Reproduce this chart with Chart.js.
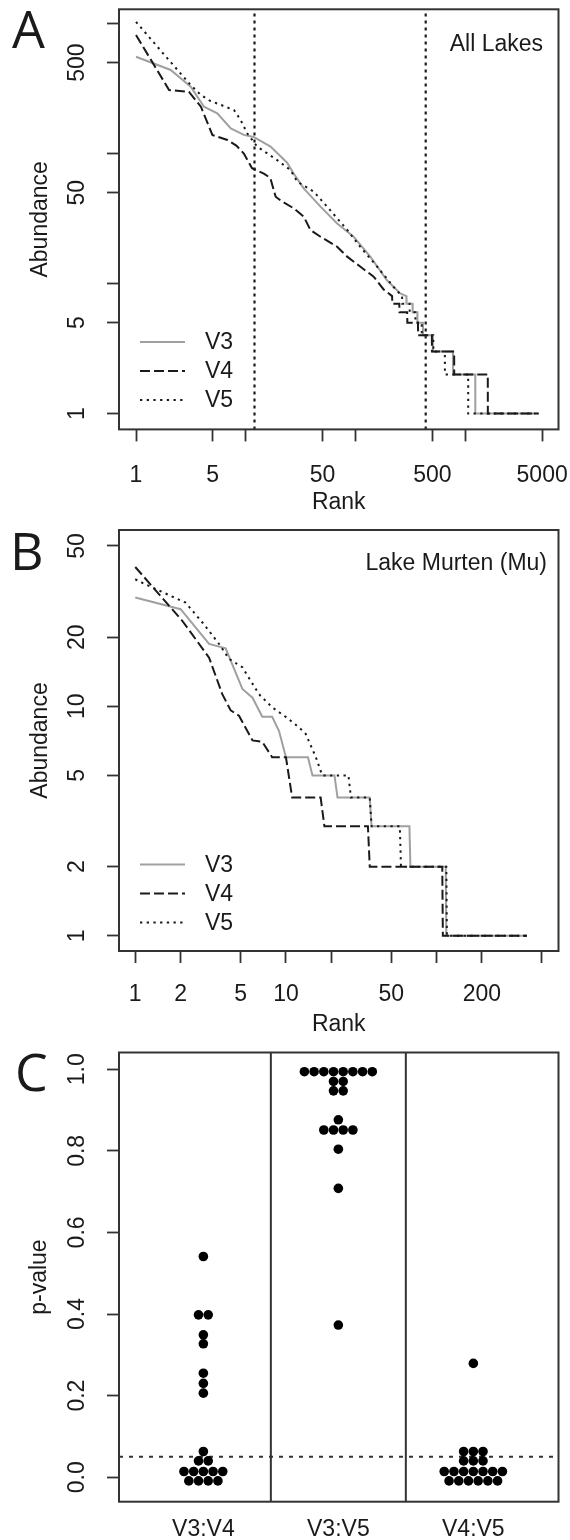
<!DOCTYPE html>
<html>
<head>
<meta charset="utf-8">
<script src="https://cdn.jsdelivr.net/npm/chart.js@4.4.1/dist/chart.umd.min.js"></script>
<style>
  body { margin: 0; background: #fff; width: 570px; height: 1540px; position: relative; overflow: hidden; }
  canvas { position: absolute; left: 0; }
</style>
</head>
<body>
<canvas id="panelA" width="570" height="520" style="top:0"></canvas>
<canvas id="panelB" width="570" height="520" style="top:520px"></canvas>
<canvas id="panelC" width="570" height="500" style="top:1040px"></canvas>
<script>
// ---- panel A: all lakes, rank vs abundance (log-log) ----
const rankTicksA = [1, 5, 10, 50, 100, 500, 1000, 5000];
const rankLabelsA = [1, 5, 50, 500, 5000];
const abundTicksA = [1, 5, 10, 50, 100, 500, 1000];
const abundLabelsA = [1, 5, 50, 500];
const cutoffRanksA = [12, 435];

// [rank, abundance] vertices
const aV3 = [[1,555],[2.07,439],[3.15,327],[4.16,229],[5.5,204],[7.3,156],[9.6,139],[11.8,134],[16.8,113],[23.8,85],[27.3,70],[33.7,54],[47.9,39],[67.9,29],[96,22.9],[136,16.1],[193,10.6],[255,8.4],[290,8],[291,7],[330,7],[331,6],[365,6],[366,5],[410,5],[411,4],[505,4],[506,3],[770,3],[771,2],[1230,2],[1231,1],[4650,1]];
const aV4 = [[1,815],[2,308],[3.04,298],[3.9,229],[4.96,139],[6.8,127],[8.2,115],[9.6,100],[11.4,77],[14.6,70],[16.7,65],[18.7,46.5],[21.5,42.6],[27.3,37.9],[33.7,32.7],[38.8,25.8],[47.9,22.9],[67.9,19.2],[83.8,16.1],[110,13.5],[146,11.3],[180,9],[215,8],[216,7],[250,7],[251,6],[295,6],[296,5],[370,5],[371,4],[495,4],[496,3],[790,3],[791,2],[1600,2],[1601,1],[4650,1]];
const aV5 = [[1,1030],[1.93,540],[3.15,336],[3.9,282],[4.7,255],[6.2,233],[7.8,216],[8.97,181],[10.3,143],[12.7,113],[19.3,89],[25.6,74.5],[29.4,60.7],[41.7,50.8],[55,39],[84,25.8],[110,19.2],[157,13.5],[222,9.4],[265,8],[266,7],[310,7],[311,6],[350,6],[351,5],[400,5],[401,4],[510,4],[511,3],[650,3],[651,2],[1060,2],[1061,1],[4650,1]];

// ---- panel B: Lake Murten ----
const rankTicksB = [1, 2, 5, 10, 20, 50, 100, 200, 500];
const rankLabelsB = [1, 2, 5, 10, 50, 200];
const abundTicksB = [1, 2, 5, 10, 20, 50];

const bV3 = [[1,29.8],[2,26.5],[3.09,18.7],[3.98,17.9],[5.14,11.9],[6,10.9],[6.97,9],[8.1,9],[9,7.8],[10,6],[14,6],[15,5],[21,5],[22,4],[36,4],[37,3],[66,3],[67,2],[115,2],[116,1],[398,1]];
const bV4 = [[1,40.5],[1.68,27.4],[2.05,23.6],[3.09,16.3],[3.78,11.3],[4.3,9.6],[4.88,9.1],[6,7.1],[6.97,7],[8.1,6],[10,6],[11,4],[17,4],[18,3],[35,3],[36,2],[109,2],[110,1],[398,1]];
const bV5 = [[1,35.8],[1.17,34],[1.72,30.3],[2.16,28.3],[2.79,23.2],[3.6,18.7],[4.19,16.1],[5.14,14.8],[6.62,11.3],[8.1,9.9],[9.96,9],[12.2,8.1],[13.5,7.6],[15.8,6],[17.4,5],[26,5],[27,4],[36,4],[37,3],[57,3],[58,2],[116,2],[117,1],[398,1]];

// ---- panel C: p-values per pairwise comparison ----
const comparisons = ['V3:V4', 'V3:V5', 'V4:V5'];
const pTicks = [0, 0.2, 0.4, 0.6, 0.8, 1.0];
const pCutoff = 0.05;
const pV3V4 = [0.541, 0.398, 0.398, 0.349, 0.327, 0.255, 0.230, 0.206, 0.063, 0.040, 0.040,
  0.014, 0.014, 0.014, 0.014, 0.014, -0.009, -0.009, -0.009, -0.009];
const pV3V5 = [0.994, 0.994, 0.994, 0.994, 0.994, 0.994, 0.994, 0.994, 0.970, 0.970, 0.947, 0.947,
  0.876, 0.851, 0.851, 0.851, 0.851, 0.804, 0.708, 0.373];
const pV4V5 = [0.279, 0.063, 0.063, 0.063, 0.040, 0.040, 0.040,
  0.014, 0.014, 0.014, 0.014, 0.014, 0.014, 0.014, -0.009, -0.009, -0.009, -0.009, -0.009, -0.009];

const FONT = '"Liberation Sans", Arial, sans-serif';
const INK = '#1a1a1a';
const tickFont = { family: FONT, size: 23 };

const lineStyle = {
  V3: { borderColor: '#a0a0a0', borderWidth: 2, borderDash: [] },
  V4: { borderColor: '#1a1a1a', borderWidth: 2, borderDash: [10, 4] },
  V5: { borderColor: '#1a1a1a', borderWidth: 2, borderDash: [2.3, 4.4] }
};

function curve(label, pts, style) {
  return Object.assign({
    label: label,
    data: pts.map(p => ({ x: p[0], y: p[1] })),
    showLine: true, pointRadius: 0, tension: 0, fill: false
  }, style);
}

function refLine(pts, style) {
  return Object.assign({ label: 'ref', data: pts, showLine: true, pointRadius: 0, tension: 0, fill: false }, style);
}

function useTicks(values) {
  return function (scale) { scale.ticks = values.map(v => ({ value: v })); };
}

// fixed axis sizes so the plot box lands where the reference has it
function fixHeight(h) {
  return function (s) { s.height = h; s.paddingLeft = 0; s.paddingRight = 0; };
}
function fixWidth(w) {
  return function (s) { s.width = w; s.paddingTop = 0; s.paddingBottom = 0; };
}

function grid() {
  return { drawOnChartArea: false, drawTicks: true, tickLength: 12, tickColor: '#333', tickWidth: 1.8 };
}

// box round the plot, panel letter, corner note and line legend
const frame = {
  id: 'frame',
  afterDraw(chart, args, o) {
    const ctx = chart.ctx, a = chart.chartArea;
    ctx.save();
    ctx.setLineDash([]);
    ctx.strokeStyle = '#333';
    ctx.lineWidth = 2;
    ctx.strokeRect(a.left, a.top, a.right - a.left, a.bottom - a.top);
    ctx.fillStyle = INK;
    ctx.textBaseline = 'alphabetic';
    ctx.textAlign = 'left';
    ctx.font = '52px "Open Sans"';
    ctx.fillText(o.letter, o.letterX, o.letterY);
    if (o.note) {
      ctx.font = '23px ' + FONT;
      ctx.textAlign = 'right';
      ctx.fillText(o.note, o.noteX, o.noteY);
    }
    if (o.legend) {
      const L = o.legend;
      L.labels.forEach((name, i) => {
        const ds = chart.data.datasets.find(d => d.label === name);
        const y = L.y0 + i * L.dy;
        ctx.strokeStyle = ds.borderColor;
        ctx.lineWidth = ds.borderWidth;
        ctx.setLineDash(ds.borderDash);
        ctx.beginPath();
        ctx.moveTo(L.x1, y);
        ctx.lineTo(L.x2, y);
        ctx.stroke();
        ctx.setLineDash([]);
        ctx.fillStyle = INK;
        ctx.textAlign = 'left';
        ctx.textBaseline = 'middle';
        ctx.font = '23px ' + FONT;
        ctx.fillText(name, L.tx, y + 1);
      });
    }
    ctx.restore();
  }
};

function rankChart(id, c) {
  const datasets = [
    curve('V4', c.v4, lineStyle.V4),
    curve('V5', c.v5, lineStyle.V5),
    curve('V3', c.v3, lineStyle.V3)
  ];
  (c.cutoffs || []).forEach(r => {
    datasets.push(refLine([{ x: r, y: c.yRange[0] }, { x: r, y: c.yRange[1] }],
      { borderColor: '#1a1a1a', borderWidth: 2.2, borderDash: [3, 4] }));
  });
  return new Chart(document.getElementById(id), {
    type: 'scatter',
    data: { datasets: datasets },
    options: {
      responsive: false,
      animation: false,
      events: [],
      devicePixelRatio: 1,
      layout: { padding: { top: c.top, right: 11.5, left: 0, bottom: 0 } },
      scales: {
        x: {
          type: 'logarithmic', min: c.xRange[0], max: c.xRange[1],
          afterBuildTicks: useTicks(c.xTicks),
          afterFit: fixHeight(c.xHeight),
          border: { display: false },
          grid: grid(),
          ticks: {
            autoSkip: false, minRotation: 0, maxRotation: 0, padding: c.xPad, font: tickFont, color: INK,
            callback: v => c.xLabels.includes(v) ? String(v) : ''
          },
          title: { display: true, text: 'Rank', font: tickFont, color: INK, padding: { top: 0, bottom: c.titlePad } }
        },
        y: {
          type: 'logarithmic', min: c.yRange[0], max: c.yRange[1],
          afterBuildTicks: useTicks(c.yTicks),
          afterFit: fixWidth(119),
          border: { display: false },
          grid: grid(),
          ticks: {
            autoSkip: false, minRotation: 90, maxRotation: 90, crossAlign: 'center', padding: c.yPad,
            font: tickFont, color: INK,
            callback: v => c.yLabels.includes(v) ? String(v) : ''
          },
          title: { display: true, text: 'Abundance', font: tickFont, color: INK, padding: { top: 27, bottom: 0 } }
        }
      },
      plugins: {
        legend: { display: false },
        tooltip: { enabled: false },
        frame: {
          letter: c.letter, letterX: c.letterX, letterY: c.letterY,
          note: c.note, noteX: c.noteX, noteY: c.noteY,
          legend: { labels: ['V3', 'V4', 'V5'], x1: 140, x2: 185, tx: 205, y0: c.legendY, dy: 29 }
        }
      }
    },
    plugins: [frame]
  });
}

rankChart('panelA', {
  v3: aV3, v4: aV4, v5: aV5, cutoffs: cutoffRanksA,
  xRange: [0.711, 7047], yRange: [0.755, 1286],
  xTicks: rankTicksA, xLabels: rankLabelsA, yTicks: abundTicksA, yLabels: abundLabelsA,
  top: 9.3, xHeight: 90.6, xPad: 20, yPad: 9.8, titlePad: 3.5,
  letter: 'A', letterX: 12, letterY: 48,
  note: 'All Lakes', noteX: 543, noteY: 51, legendY: 342
});

rankChart('panelB', {
  v3: bV3, v4: bV4, v5: bV5,
  xRange: [0.78, 644], yRange: [0.858, 58.7],
  xTicks: rankTicksB, xLabels: rankLabelsB, yTicks: abundTicksB, yLabels: abundTicksB,
  top: 10, xHeight: 89, xPad: 18.2, yPad: 16.2, titlePad: 1.2,
  letter: 'B', letterX: 10, letterY: 50,
  note: 'Lake Murten (Mu)', noteX: 547, noteY: 50, legendY: 344.5
});

// simple swarm: equal p-values share a row, centred on the category
function swarm(values, center, step) {
  const rows = new Map();
  values.forEach(v => rows.set(v, (rows.get(v) || 0) + 1));
  const pts = [];
  rows.forEach((n, v) => {
    for (let i = 0; i < n; i++) pts.push({ x: center + (i - (n - 1) / 2) * step, y: v });
  });
  return pts;
}

const cX = [0.375, 3.631];
const cY = [-0.060, 1.041];
const dotStep = 9.7 / 135;
const dotSets = [pV3V4, pV3V5, pV4V5].map((vals, i) => ({
  label: comparisons[i],
  data: swarm(vals, i + 1, dotStep),
  pointRadius: 4.8, pointBackgroundColor: '#000', pointBorderWidth: 0, showLine: false
}));

new Chart(document.getElementById('panelC'), {
  type: 'scatter',
  data: {
    datasets: dotSets.concat([
      refLine([{ x: cX[0], y: pCutoff }, { x: cX[1], y: pCutoff }], { borderColor: '#333', borderWidth: 2, borderDash: [4, 6] }),
      refLine([{ x: 1.5, y: cY[0] }, { x: 1.5, y: cY[1] }], { borderColor: '#333', borderWidth: 2, borderDash: [] }),
      refLine([{ x: 2.5, y: cY[0] }, { x: 2.5, y: cY[1] }], { borderColor: '#333', borderWidth: 2, borderDash: [] })
    ])
  },
  options: {
    responsive: false,
    animation: false,
    events: [],
    devicePixelRatio: 1,
    layout: { padding: { top: 12.5, right: 11.5, left: 0, bottom: 0 } },
    scales: {
      x: {
        type: 'linear', min: cX[0], max: cX[1],
        afterBuildTicks: useTicks([1, 2, 3]),
        afterFit: fixHeight(38.3),
        border: { display: false },
        grid: { drawOnChartArea: false, drawTicks: false },
        ticks: { autoSkip: false, minRotation: 0, maxRotation: 0, padding: 14.5, font: tickFont, color: INK,
          callback: (v, i) => comparisons[i] }
      },
      y: {
        type: 'linear', min: cY[0], max: cY[1],
        afterBuildTicks: useTicks(pTicks),
        afterFit: fixWidth(119),
        border: { display: false },
        grid: grid(),
        ticks: { autoSkip: false, minRotation: 90, maxRotation: 90, crossAlign: 'center', padding: 13,
          font: tickFont, color: INK, callback: v => v.toFixed(1) },
        title: { display: true, text: 'p-value', font: tickFont, color: INK, padding: { top: 26, bottom: 0 } }
      }
    },
    plugins: {
      legend: { display: false },
      tooltip: { enabled: false },
      frame: { letter: 'C', letterX: 15, letterY: 51 }
    }
  },
  plugins: [frame]
});
</script>
</body>
</html>
